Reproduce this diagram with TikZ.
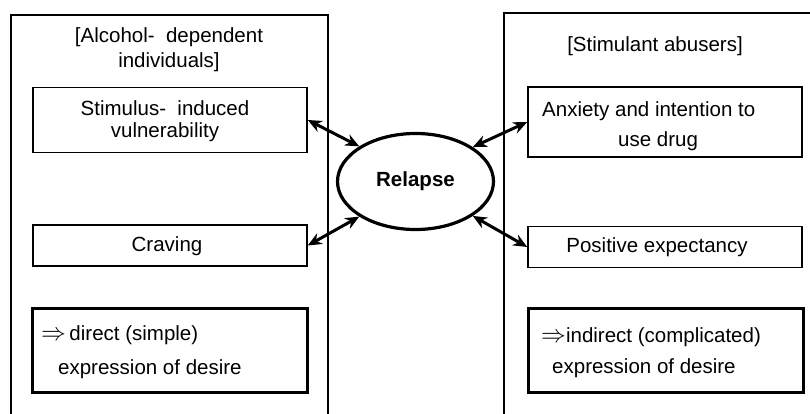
\documentclass[tikz,border=0pt]{standalone}
\usepackage{fontspec}
\setmainfont{Liberation Sans}
\usetikzlibrary{arrows.meta,shapes.geometric}
\newcommand{\bigimp}{{\fontsize{23}{30}\selectfont$\Rightarrow$}}
\begin{document}
\begin{tikzpicture}[x=1pt,y=-1pt,
  txt/.style={font=\fontsize{20.5}{25}\selectfont, inner sep=0pt},
  group/.style={draw, line width=1.1pt, inner sep=0pt},
  item/.style={draw, line width=1.5pt, inner sep=0pt},
  result/.style={draw, line width=3pt, inner sep=0pt},
  link/.style={line width=3pt, {Stealth[length=14pt,width=12pt]}-{Stealth[length=14pt,width=12pt]}}
]
\useasboundingbox (0,0) rectangle (810,414);
% outer groups
\node[group, minimum width=317pt, minimum height=420pt] (lgroup) at (169.5,225) {};
\node[group, minimum width=330pt, minimum height=422pt] (rgroup) at (669,224) {};
\node[txt, align=center, font=\fontsize{20.5}{25}\selectfont] (ltitle) at (169,50) {[Alcohol-\ \ dependent\\individuals]};
\node[txt] (rtitle) at (655,46) {[Stimulant abusers]};
% left items
\node[item, minimum width=274pt, minimum height=65pt] (stim) at (170,120) {};
\node[txt, align=center, font=\fontsize{20.5}{22}\selectfont] (stimt) at (165,121) {Stimulus-\ \ induced\\vulnerability};
\node[item, minimum width=274pt, minimum height=41pt] (crav) at (170,245.5) {};
\node[txt] (cravt) at (167,246) {Craving};
\node[result, minimum width=275pt, minimum height=84pt] (dir) at (169.5,350) {};
\node[txt, anchor=west, align=left, font=\fontsize{20.5}{34}\selectfont] (dirt) at (41,352) {\bigimp\,direct (simple)\\\hspace*{17pt}expression of desire};
% right items
\node[item, minimum width=274pt, minimum height=70pt] (anx) at (665,122) {};
\node[txt, anchor=west, align=left, font=\fontsize{20.5}{30}\selectfont] (anxt) at (542,126) {Anxiety and intention to\\\hspace*{76pt}use drug};
\node[item, minimum width=274pt, minimum height=41pt] (pos) at (665,247) {};
\node[txt] (post) at (657,247) {Positive expectancy};
\node[result, minimum width=275pt, minimum height=84pt] (ind) at (665.5,350) {};
\node[txt, anchor=west, align=left, font=\fontsize{20.5}{31}\selectfont] (indt) at (541,353) {\bigimp indirect (complicated)\\\hspace*{11pt}expression of desire};
% relapse
\node[draw, ellipse, line width=3.2pt, minimum width=156pt, minimum height=96pt, inner sep=0pt, font=\bfseries\fontsize{20.5}{25}\selectfont] (rel) at (415.5,181.5) {Relapse};
% connectors
\draw[link] (stim.east) -- (rel.148);
\draw[link] (crav.east) -- (rel.212);
\draw[link] (anx.west) -- (rel.31);
\draw[link] (pos.west) -- (rel.329);
\end{tikzpicture}
\end{document}
